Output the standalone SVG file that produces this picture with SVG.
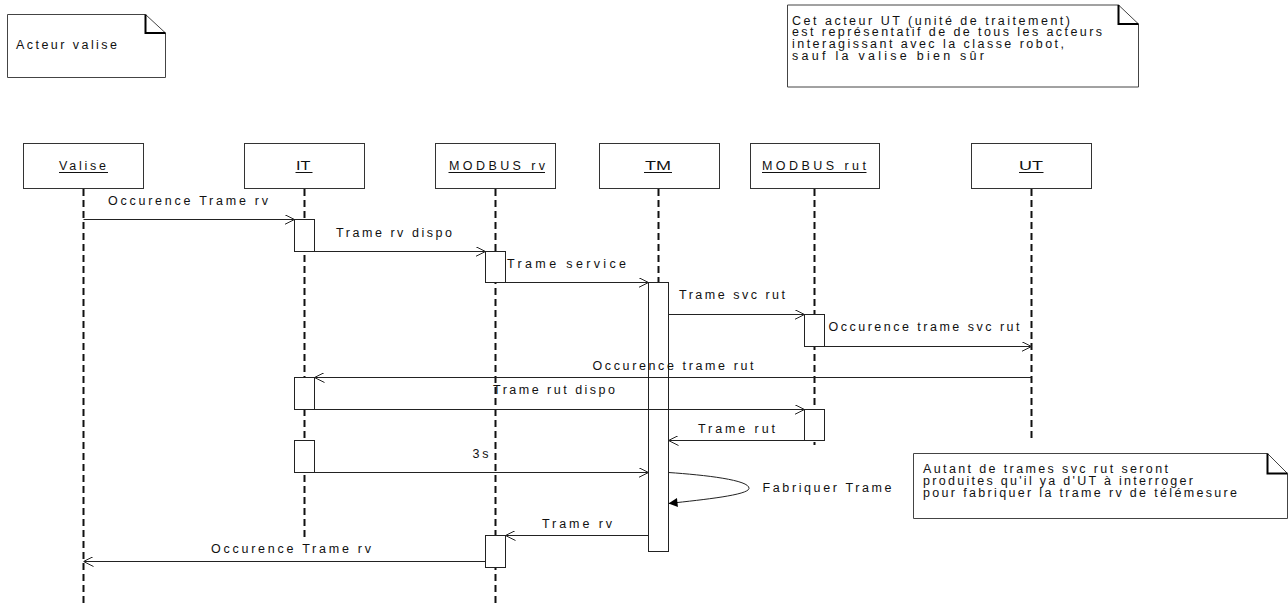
<svg xmlns="http://www.w3.org/2000/svg" width="1288" height="604" viewBox="0 0 1288 604">
<style>
.t{font-family:"Liberation Sans",Arial,sans-serif;font-size:12.5px;fill:#111}
.ul{stroke:#111;stroke-width:1}
.box{fill:#fff;stroke:#333;stroke-width:1}
.life{stroke:#111;stroke-width:2;stroke-dasharray:7 4;fill:none}
.act{fill:#fff;stroke:#222;stroke-width:1}
.msg{stroke:#222;stroke-width:1;fill:none;marker-end:url(#open)}
.note{fill:#fff;stroke:#444;stroke-width:1}
.fold{fill:none;stroke:#000;stroke-width:2}
</style>
<defs>
<marker id="open" viewBox="0 0 10 10" refX="10" refY="5" markerWidth="10" markerHeight="10" markerUnits="userSpaceOnUse" orient="auto">
<path d="M0,0 L10,5 L0,10" fill="none" stroke="#222" stroke-width="1"/>
</marker>
<marker id="filled" viewBox="0 0 10 10" refX="10" refY="5" markerWidth="11" markerHeight="9" markerUnits="userSpaceOnUse" orient="auto">
<path d="M0,0 L10,5 L0,10 z" fill="#000"/>
</marker>
</defs>
<rect width="1288" height="604" fill="#fff"/>

<g id="note-valise">
<path class="note" d="M7.5,14.5 H145.5 L165.5,33 V77.5 H7.5 Z"/>
<path class="fold" d="M145.5,14.5 V33 H165.5"/>
<text class="t" x="16" y="49.3" textLength="101" lengthAdjust="spacing">Acteur valise</text>
</g>

<g id="note-ut">
<path class="note" d="M787.5,5 H1118.5 L1138.5,24 V87 H787.5 Z"/>
<path class="fold" d="M1118.5,5 V24 H1138.5"/>
<text class="t" x="792" y="24.5" textLength="278" lengthAdjust="spacing">Cet acteur UT (unité de traitement)</text>
<text class="t" x="792" y="36.3" textLength="310" lengthAdjust="spacing">est représentatif de de tous les acteurs</text>
<text class="t" x="792" y="48" textLength="272" lengthAdjust="spacing">interagissant avec la classe robot,</text>
<text class="t" x="792" y="59.7" textLength="192" lengthAdjust="spacing">sauf la valise bien sûr</text>
</g>

<g id="note-trames">
<path class="note" d="M913.5,453.5 H1267.5 L1287.5,473.5 V518.5 H913.5 Z"/>
<path class="fold" d="M1267.5,453.5 V473.5 H1287.5"/>
<text class="t" x="923" y="473.3" textLength="245" lengthAdjust="spacing">Autant de trames svc rut seront</text>
<text class="t" x="923" y="485" textLength="270" lengthAdjust="spacing">produites qu'il ya d'UT à interroger</text>
<text class="t" x="923" y="496.5" textLength="314" lengthAdjust="spacing">pour fabriquer la trame rv de télémesure</text>
</g>

<g id="valise">
<rect class="box" x="23.5" y="143.5" width="120" height="45"/>
<text class="t" x="59" y="170" textLength="47" lengthAdjust="spacing">Valise</text>
<line class="ul" x1="59" y1="172.5" x2="108" y2="172.5"/>
<line class="life" x1="83.5" y1="189" x2="83.5" y2="604"/>
</g>

<g id="it">
<rect class="box" x="244.5" y="143.5" width="120" height="45"/>
<text class="t" x="296" y="170" textLength="14.5" lengthAdjust="spacingAndGlyphs">IT</text>
<line class="ul" x1="295.5" y1="172.5" x2="312.5" y2="172.5"/>
<line class="life" x1="304.5" y1="189" x2="304.5" y2="537"/>
<rect class="act" x="294.5" y="219.5" width="20" height="32"/>
<rect class="act" x="294.5" y="377.5" width="20" height="32"/>
<rect class="act" x="294.5" y="440.5" width="20" height="32"/>
</g>

<g id="modbus-rv">
<rect class="box" x="435.5" y="143.5" width="120" height="45"/>
<text class="t" x="449" y="170" textLength="96" lengthAdjust="spacing">MODBUS rv</text>
<line class="ul" x1="448.5" y1="172.5" x2="545" y2="172.5"/>
<line class="life" x1="495.5" y1="189" x2="495.5" y2="604"/>
<rect class="act" x="485.5" y="251.5" width="20" height="31"/>
<rect class="act" x="485.5" y="535.5" width="20" height="32"/>
</g>

<g id="tm">
<rect class="box" x="599.5" y="143.5" width="120" height="45"/>
<text class="t" x="645" y="170" textLength="26" lengthAdjust="spacingAndGlyphs">TM</text>
<line class="ul" x1="644" y1="172.5" x2="672" y2="172.5"/>
<line class="life" x1="658.5" y1="189" x2="658.5" y2="282"/>
<rect class="act" x="648.5" y="282.5" width="20" height="269"/>
</g>

<g id="modbus-rut">
<rect class="box" x="750.5" y="143.5" width="129" height="45"/>
<text class="t" x="762" y="170" textLength="104" lengthAdjust="spacing">MODBUS rut</text>
<line class="ul" x1="762" y1="172.5" x2="866.5" y2="172.5"/>
<line class="life" x1="814.5" y1="189" x2="814.5" y2="445"/>
<rect class="act" x="804.5" y="314.5" width="20" height="32"/>
<rect class="act" x="804.5" y="409.5" width="20" height="31"/>
</g>

<g id="ut">
<rect class="box" x="971.5" y="143.5" width="120" height="45"/>
<text class="t" x="1019" y="170" textLength="24" lengthAdjust="spacingAndGlyphs">UT</text>
<line class="ul" x1="1019" y1="172.5" x2="1043.5" y2="172.5"/>
<line class="life" x1="1031.5" y1="189" x2="1031.5" y2="441"/>
</g>

<g id="connectors">
<path class="msg" d="M83.5,219.5 H294.5"/>
<path class="msg" d="M314.5,251.5 H485.5"/>
<path class="msg" d="M505.5,282.5 H648.5"/>
<path class="msg" d="M668.5,314.5 H804.5"/>
<path class="msg" d="M824.5,346.5 H1031.5"/>
<path class="msg" d="M1031.5,377.5 H314.5"/>
<path class="msg" d="M314.5,409.5 H804.5"/>
<path class="msg" d="M804.5,440.5 H668.5"/>
<path class="msg" d="M314.5,472.5 H648.5"/>
<path d="M668.5,472.5 C705,475 750,480 749,488.5 C748,495 705,499.5 668.5,503.5" fill="none" stroke="#222" stroke-width="1" marker-end="url(#filled)"/>
<path class="msg" d="M648.5,535.5 H505.5"/>
<path class="msg" d="M485.5,561.5 H83.5"/>

<text class="t" x="108" y="205.3" textLength="160" lengthAdjust="spacing">Occurence Trame rv</text>
<text class="t" x="336" y="237.3" textLength="116" lengthAdjust="spacing">Trame rv dispo</text>
<text class="t" x="507" y="268.3" textLength="119" lengthAdjust="spacing">Trame service</text>
<text class="t" x="679" y="299" textLength="106" lengthAdjust="spacing">Trame svc rut</text>
<text class="t" x="828.5" y="331" textLength="191" lengthAdjust="spacing">Occurence trame svc rut</text>
<text class="t" x="592.5" y="369.5" textLength="161" lengthAdjust="spacing">Occurence trame rut</text>
<text class="t" x="493" y="394.3" textLength="122" lengthAdjust="spacing">Trame rut dispo</text>
<text class="t" x="698" y="432.7" textLength="77" lengthAdjust="spacing">Trame rut</text>
<text class="t" x="472.5" y="458.3" textLength="16" lengthAdjust="spacing">3s</text>
<text class="t" x="762.5" y="491.7" textLength="129" lengthAdjust="spacing">Fabriquer Trame</text>
<text class="t" x="542" y="527.7" textLength="70" lengthAdjust="spacing">Trame rv</text>
<text class="t" x="211" y="553.3" textLength="160" lengthAdjust="spacing">Occurence Trame rv</text>
</g>
</svg>
